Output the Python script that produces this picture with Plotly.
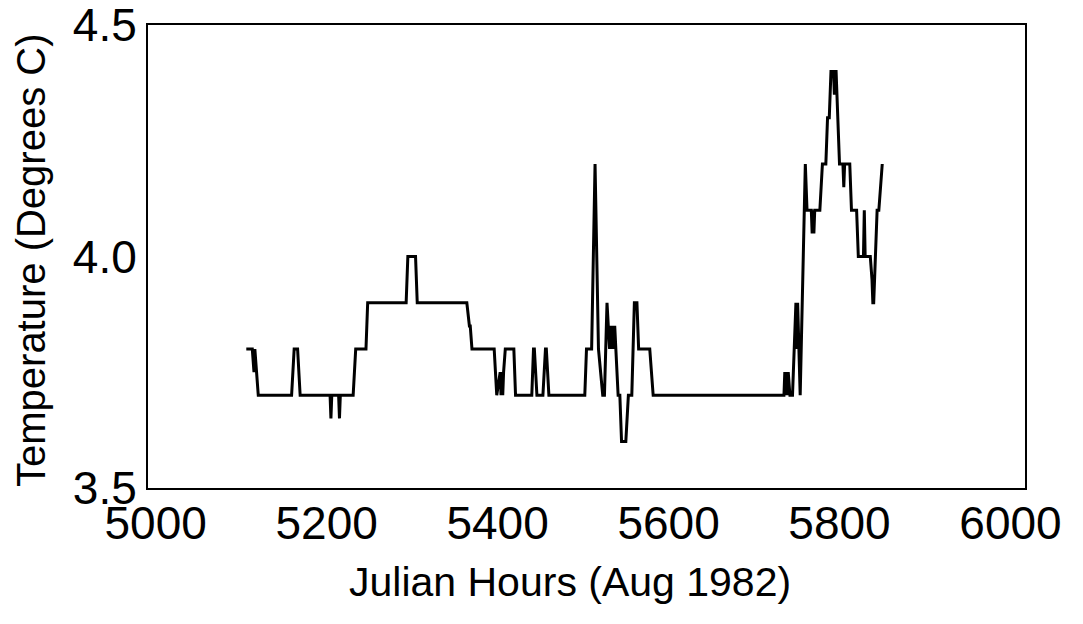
import plotly.graph_objects as go

# Julian hours (Aug 1982) and temperature (deg C), vertices
hours = [5106, 5113, 5115, 5116, 5118, 5120, 5159, 5162, 5166, 5169,
         5204, 5205, 5206, 5214, 5215, 5216, 5231, 5234, 5246, 5248,
         5293, 5295, 5304, 5306, 5364, 5367, 5368, 5370, 5396, 5399,
         5403, 5404, 5405, 5406, 5407, 5409, 5419, 5421, 5438, 5440,
         5442, 5443, 5446, 5453, 5456, 5457, 5460, 5502, 5504, 5510,
         5514, 5518, 5523, 5525, 5528, 5531, 5533, 5534, 5535, 5536,
         5537, 5541, 5543, 5545, 5550, 5553, 5557, 5560, 5563, 5565,
         5578, 5580, 5582, 5735, 5736, 5737, 5738, 5739, 5740, 5742,
         5745, 5749, 5750, 5751, 5754, 5760, 5761, 5762, 5767, 5768,
         5769, 5770, 5771, 5777, 5780, 5784, 5786, 5788, 5790, 5793,
         5794, 5795, 5796, 5800, 5804, 5805, 5806, 5812, 5814, 5820,
         5822, 5828, 5829, 5830, 5836, 5838, 5839, 5840, 5844, 5846,
         5850]
temps = [3.80, 3.80, 3.75, 3.80, 3.75, 3.70, 3.70, 3.80, 3.80, 3.70,
         3.70, 3.65, 3.70, 3.70, 3.65, 3.70, 3.70, 3.80, 3.80, 3.90,
         3.90, 4.00, 4.00, 3.90, 3.90, 3.85, 3.85, 3.80, 3.80, 3.70,
         3.75, 3.70, 3.75, 3.70, 3.75, 3.80, 3.80, 3.70, 3.70, 3.70,
         3.80, 3.80, 3.70, 3.70, 3.80, 3.80, 3.70, 3.70, 3.80, 3.80,
         4.20, 3.80, 3.70, 3.70, 3.90, 3.80, 3.85, 3.80, 3.85, 3.80,
         3.85, 3.70, 3.70, 3.60, 3.60, 3.70, 3.70, 3.90, 3.90, 3.80,
         3.80, 3.75, 3.70, 3.70, 3.75, 3.70, 3.75, 3.70, 3.75, 3.70,
         3.70, 3.90, 3.80, 3.90, 3.70, 4.20, 4.15, 4.10, 4.10, 4.05,
         4.10, 4.05, 4.10, 4.10, 4.20, 4.20, 4.30, 4.30, 4.40, 4.40,
         4.35, 4.40, 4.40, 4.20, 4.20, 4.15, 4.20, 4.20, 4.10, 4.10,
         4.00, 4.00, 4.10, 4.00, 4.00, 3.95, 3.90, 3.90, 4.10, 4.10,
         4.20]

x_ticks = [5000, 5200, 5400, 5600, 5800, 6000]
y_ticks = [3.5, 4.0, 4.5]
y_tick_text = ["3.5", "4.0", "4.5"]
x_title = "Julian Hours (Aug 1982)"
y_title = "Temperature (Degrees C)"

font_family = "Liberation Sans, Arial, sans-serif"

# page body adds an 8px offset; figure coordinates below compensate for it
OFF = 8
W, H = 1083 - OFF, 624 - OFF
L, R, T, B = 148 - OFF, 1025 - OFF, 25 - OFF, 488 - OFF

fig = go.Figure()
fig.add_trace(go.Scatter(
    x=hours, y=temps, mode="lines",
    line=dict(color="black", width=3),
    showlegend=False,
))

fig.update_layout(
    width=W, height=H,
    margin=dict(l=L, r=W - R, t=T, b=H - B, autoexpand=False),
    paper_bgcolor="white", plot_bgcolor="white",
    font=dict(family=font_family, color="black"),
)
fig.update_xaxes(
    range=[4991, 6017],
    tickvals=x_ticks,
    ticks="", showgrid=False, zeroline=False,
    showline=True, linecolor="black", linewidth=2, mirror=True,
    tickfont=dict(size=46), automargin=False,
    ticklabeloverflow="allow", ticklabelstandoff=-6,
)
fig.update_yaxes(
    range=[3.4995, 4.5005],
    tickvals=y_ticks, ticktext=y_tick_text,
    ticks="", showgrid=False, zeroline=False,
    showline=True, linecolor="black", linewidth=2, mirror=True,
    tickfont=dict(size=46), automargin=False,
    ticklabeloverflow="allow",
)
fig.add_annotation(
    text=x_title, xref="paper", yref="paper",
    x=(570 - 148) / (1025 - 148), y=-(582 - 488) / (488 - 25),
    xanchor="center", yanchor="middle", showarrow=False,
    font=dict(size=41),
)
fig.add_annotation(
    text=y_title, xref="paper", yref="paper",
    x=-(148 - 31) / (1025 - 148), y=(488 - 260) / (488 - 25),
    xanchor="center", yanchor="middle", showarrow=False, textangle=-90,
    font=dict(size=40),
)

fig.write_html("out.html")
